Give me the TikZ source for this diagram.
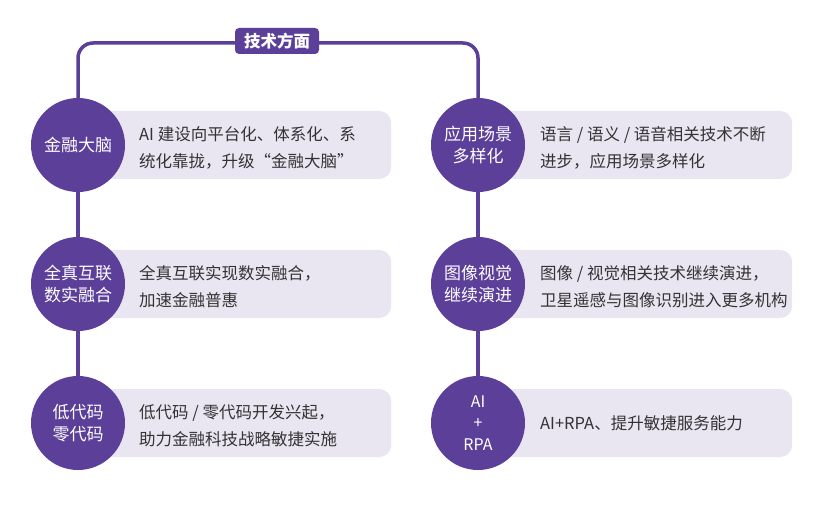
\documentclass[tikz,border=0pt]{standalone}
\usepackage{fontspec}
\setmainfont{Noto Sans CJK SC}
\definecolor{pur}{HTML}{5B3F98}
\definecolor{lav}{HTML}{E9E6F2}
\definecolor{txt}{HTML}{333333}
\begin{document}
\begin{tikzpicture}[x=1bp,y=-1bp,
  link/.style={draw=pur,line width=3.5bp},
  circ/.style={circle,fill=pur,minimum size=94bp,inner sep=0pt,text=white,align=center,font=\fontsize{17bp}{22bp}\selectfont},
  tbox/.style={fill=lav,rounded corners=12bp,minimum height=68bp,inner sep=0pt,anchor=west},
  ttext/.style={anchor=west,inner sep=0pt,align=left,text=txt,font=\fontsize{16.5bp}{27bp}\selectfont},
  lab/.style={fill=pur,rounded corners=4bp,minimum width=84bp,minimum height=26bp,inner sep=0pt,text=white,font=\bfseries\fontsize{16.5bp}{20bp}\selectfont}
]
\useasboundingbox (0,0) rectangle (824,512);
\fill[white] (0,0) rectangle (824,512);
\coordinate (tl) at (78,43);
\coordinate (tr) at (478,43);
% boxes
\node[tbox,minimum width=313bp] (b1) at (78,145) {};
\node[tbox,minimum width=313bp] (b2) at (78,284) {};
\node[tbox,minimum width=313bp] (b3) at (78,423) {};
\node[tbox,minimum width=314bp] (b4) at (478,145) {};
\node[tbox,minimum width=314bp] (b5) at (478,284) {};
\node[tbox,minimum width=314bp] (b6) at (478,423) {};
% circles
\node[circ] (c1) at (78,145) {金融大脑};
\node[circ] (c2) at (78,284) {全真互联\\数实融合};
\node[circ] (c3) at (78,423) {低代码\\零代码};
\node[circ] (c4) at (478,145) {应用场景\\多样化};
\node[circ] (c5) at (478,284) {图像视觉\\继续演进};
\node[circ,font=\fontsize{16bp}{21.5bp}\selectfont] (c6) at (478,423) {AI\\+\\RPA};
% connectors
\draw[link,rounded corners=15bp] (c1.north) -- (tl) -- (tr) -- (c4.north);
\draw[link] (c1.south) -- (c2.north);
\draw[link] (c2.south) -- (c3.north);
\draw[link] (c4.south) -- (c5.north);
\draw[link] (c5.south) -- (c6.north);
\node[lab] (title) at (277,41) {技术方面};
% texts
\node[ttext] (t1) at (139,148) {AI 建设向平台化、体系化、系\\统化靠拢，升级“金融大脑”};
\node[ttext] (t2) at (139,287) {全真互联实现数实融合，\\加速金融普惠};
\node[ttext] (t3) at (139,426) {低代码 / 零代码开发兴起，\\助力金融科技战略敏捷实施};
\node[ttext] (t4) at (540,148) {语言 / 语义 / 语音相关技术不断\\进步，应用场景多样化};
\node[ttext] (t5) at (540,287) {图像 / 视觉相关技术继续演进，\\卫星遥感与图像识别进入更多机构};
\node[ttext] (t6) at (540,423) {AI+RPA、提升敏捷服务能力};
\end{tikzpicture}
\end{document}
